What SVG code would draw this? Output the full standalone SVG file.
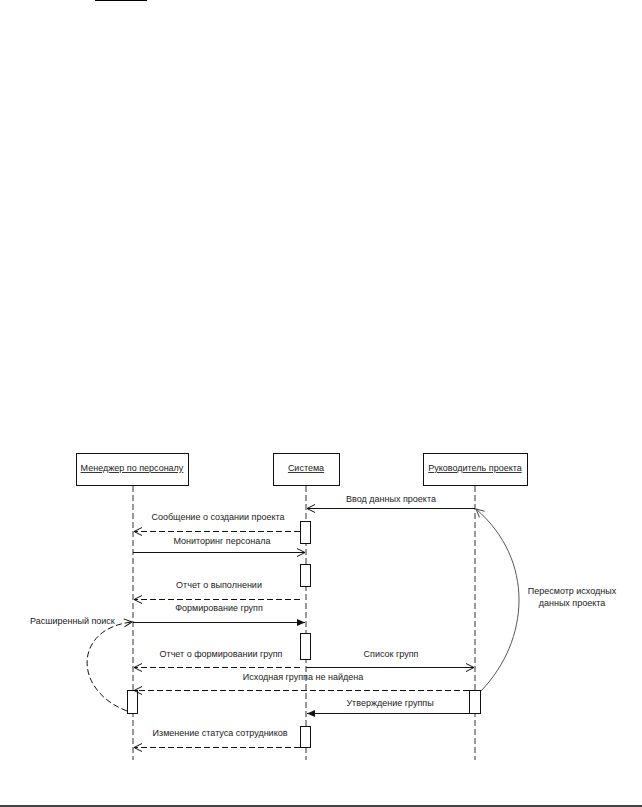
<svg xmlns="http://www.w3.org/2000/svg" width="642" height="807" viewBox="0 0 642 807">
<style>
text{font-family:"Liberation Sans",Arial,sans-serif;font-size:9px;fill:#222;}
.c{text-anchor:middle;}
.box{fill:#fff;stroke:#111;stroke-width:1;}
.life{stroke:#333;stroke-width:1;stroke-dasharray:6,3;fill:none;}
.msg{stroke:#111;stroke-width:1;fill:none;}
.dash{stroke:#111;stroke-width:1;fill:none;stroke-dasharray:6,3;}
.act{fill:#fff;stroke:#111;stroke-width:1;}
</style>
<defs>
<marker id="open" markerWidth="10" markerHeight="10" refX="9" refY="5" orient="auto" markerUnits="userSpaceOnUse">
<path d="M1,1 L9,5 L1,9" fill="none" stroke="#111" stroke-width="1"/>
</marker>
<marker id="openg" markerWidth="10" markerHeight="10" refX="9" refY="5" orient="auto" markerUnits="userSpaceOnUse">
<path d="M1,1 L9,5 L1,9" fill="none" stroke="#555" stroke-width="1"/>
</marker>
<marker id="fill" markerWidth="10" markerHeight="10" refX="9" refY="5" orient="auto" markerUnits="userSpaceOnUse">
<path d="M1,1.5 L9,5 L1,8.5 Z" fill="#111"/>
</marker>
</defs>
<rect x="95" y="0" width="52" height="1" fill="#000"/>
<rect x="0" y="805" width="642" height="2" fill="#444"/>

<g id="manager">
<rect class="box" x="76.5" y="453.5" width="112" height="32"/>
<text class="c" x="132" y="471" text-decoration="underline">Менеджер по персоналу</text>
<line class="life" x1="133" y1="486" x2="133" y2="760"/>
</g>
<g id="system">
<rect class="box" x="273.5" y="453.5" width="66" height="32"/>
<text class="c" x="306" y="471" text-decoration="underline">Система</text>
<line class="life" x1="306" y1="486" x2="306" y2="760"/>
</g>
<g id="rukovoditel">
<rect class="box" x="423.5" y="453.5" width="104" height="32"/>
<text class="c" x="475" y="471" text-decoration="underline">Руководитель проекта</text>
<line class="life" x1="475" y1="486" x2="475" y2="760"/>
</g>

<g id="activations">
<rect class="act" x="300.5" y="521.5" width="10" height="22"/>
<rect class="act" x="300.5" y="564.5" width="10" height="22"/>
<rect class="act" x="300.5" y="633.5" width="10" height="26"/>
<rect class="act" x="127.5" y="690.5" width="10" height="23"/>
<rect class="act" x="469.5" y="690.5" width="11" height="23"/>
<rect class="act" x="300.5" y="726.5" width="10" height="21"/>
</g>

<g id="connectors">
<line class="msg" x1="475" y1="508.5" x2="307" y2="508.5" marker-end="url(#open)"/>
<line class="dash" x1="300" y1="531.5" x2="134" y2="531.5" marker-end="url(#open)"/>
<line class="msg" x1="133" y1="552.5" x2="305" y2="552.5" marker-end="url(#open)"/>
<line class="dash" x1="300" y1="599.5" x2="134" y2="599.5" marker-end="url(#open)"/>
<line class="msg" x1="133" y1="622.5" x2="305" y2="622.5" marker-end="url(#fill)"/>
<line class="dash" x1="300" y1="667.5" x2="134" y2="667.5" marker-end="url(#open)"/>
<line class="msg" x1="306" y1="667.5" x2="474" y2="667.5" marker-end="url(#open)"/>
<line class="dash" x1="469" y1="690.5" x2="134" y2="690.5" marker-end="url(#open)"/>
<line class="msg" x1="469" y1="713.5" x2="307" y2="713.5" marker-end="url(#fill)"/>
<line class="dash" x1="300" y1="747.5" x2="134" y2="747.5" marker-end="url(#open)"/>
<path class="dash" d="M127,711 C72,690 74,628 132,622" marker-end="url(#open)"/>
<path d="M481,691 C530,640 535,560 476,509" fill="none" stroke="#555" stroke-width="1" marker-end="url(#openg)"/>
</g>

<g id="labels">
<text class="c" x="391" y="502">Ввод данных проекта</text>
<text class="c" x="218" y="520">Сообщение о создании проекта</text>
<text class="c" x="222" y="544">Мониторинг персонала</text>
<text class="c" x="219" y="588">Отчет о выполнении</text>
<text class="c" x="219" y="611">Формирование групп</text>
<text x="30" y="624">Расширенный поиск</text>
<text class="c" x="221" y="657">Отчет о формировании групп</text>
<text class="c" x="391" y="657">Список групп</text>
<text class="c" x="303" y="680">Исходная группа не найдена</text>
<text class="c" x="390" y="706">Утверждение группы</text>
<text class="c" x="220" y="736">Изменение статуса сотрудников</text>
<text class="c" x="572" y="594">Пересмотр исходных</text>
<text class="c" x="572" y="606">данных проекта</text>
</g>
</svg>
